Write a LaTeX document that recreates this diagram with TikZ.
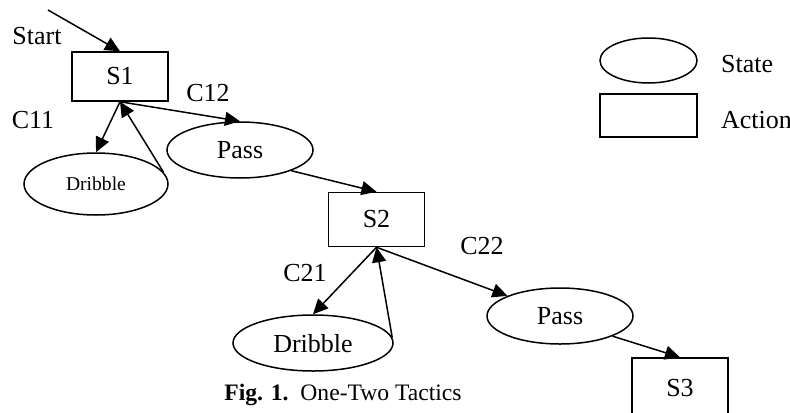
\documentclass[tikz,border=0pt]{standalone}
\usepackage{fontspec}
\setmainfont{Liberation Serif}
\usepackage{tikz}
\usetikzlibrary{shapes.geometric,arrows.meta}

\tikzset{
  act/.style={draw,line width=0.75pt,minimum width=48pt,minimum height=27pt,inner sep=0pt},
  st/.style={draw,ellipse,line width=0.75pt,minimum width=73pt,minimum height=28pt,inner sep=0pt},
  lbl/.style={font=\fontsize{13}{15}\selectfont},
  tr/.style={line width=0.75pt,-{Triangle[length=7.5pt,width=7pt]}}
}

\begin{document}
\begin{tikzpicture}[x=0.5pt,y=-0.5pt]
            \path[use as bounding box,clip] (0,0) rectangle (790,412);
            % actions
            \node[act,lbl,minimum height=24.5pt] (s1) at (120,76.5){S1};
            \node[act,lbl] (s2) at (376.5,219.5){S2};
            \node[act,lbl,minimum height=30pt] (s3) at (680,388){S3};
            % states
            \node[st,font=\fontsize{9.8}{11}\selectfont,minimum width=72pt,minimum height=31pt] (drib1) at (96,184){Dribble};
            \node[st,lbl] (pass1) at (240,150){Pass};
            \node[st,lbl,minimum width=80pt,text depth=-3pt] (drib2) at (313,343){Dribble};
            \node[st,lbl] (pass2) at (560,316){Pass};
            % start
            \coordinate (st0) at (48,10);
            \node[lbl] (start) at (37,36){Start};
            \draw[tr] (st0)to(s1.north);
            % transitions
             \draw[tr](s1.south)to(drib1.north);
             \draw[tr](drib1.10)to(s1.south);
             \draw[tr](s1.south)to(pass1.north);
             \draw[tr](pass1.-22)to(s2.north);
             \draw[tr](s2.south)to(drib2.north);
             \draw[tr](drib2.4)to(s2.south);
             \draw[tr](s2.south)to(pass2.159);
             \draw[tr](pass2.-21)to(s3.north);
             \node[lbl] (c11) at (33,120){C11};
             \node[lbl] (c12) at (208,93){C12};
             \node[lbl] (c21) at (305,273){C21};
             \node[lbl] (c22) at (482,246){C22};
            % legend
            \node[st,minimum width=48.5pt,minimum height=22.5pt] (keyst) at (648.5,60.5){};
            \node[act,minimum width=48.5pt,minimum height=21.5pt] (keyact) at (648.5,115.5){};
            \node[lbl,anchor=west] (keystl) at (714,64){State};
            \node[lbl,anchor=west] (keyactl) at (714,120){Action};
            % caption
            \node[font=\fontsize{11.8}{14}\selectfont] (cap) at (343,395){\textbf{Fig. 1.}\ \ One-Two Tactics};
      \end{tikzpicture}
\end{document}
